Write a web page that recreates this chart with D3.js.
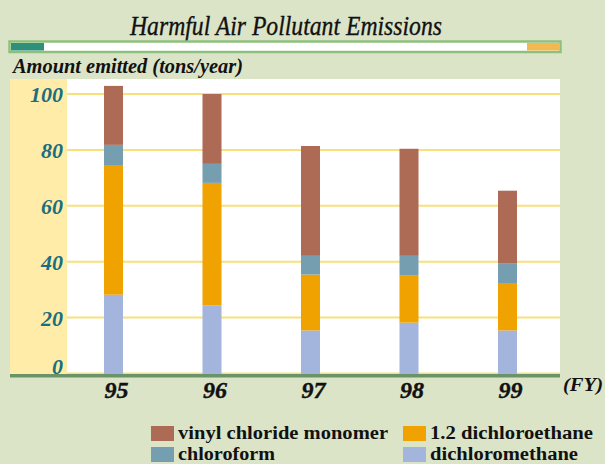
<!DOCTYPE html>
<html><head><meta charset="utf-8"><script src="https://cdn.jsdelivr.net/npm/d3@7"></script></head>
<body style="margin:0;background:#DCE4C8">
<svg id="chart" width="605" height="464" style="display:block"></svg>
<script>
const years = ["95", "96", "97", "98", "99"];
const seriesNames = ["dichloromethane", "1.2 dichloroethane", "chloroform", "vinyl chloride monomer"];
const dichloromethane = [28.2, 24.3, 15.4, 18.2, 15.4];
const dichloroethane = [46.4, 43.9, 20.0, 16.8, 16.7];
const chloroform = [7.2, 6.8, 6.7, 7.1, 7.2];
const vinylChloride = [21.1, 25.0, 39.3, 38.3, 26.1];
const yTicks = [0, 20, 40, 60, 80, 100];
const colors = ["#A3B5DC", "#EFA200", "#759FB0", "#AD6A55"];

const svg = d3.select("#chart");
const W = 605, H = 464;
svg.append("rect").attr("width", W).attr("height", H).attr("fill", "#DCE4C8");

function txt(sel, size, italic, bold) {
  return sel.style("font-family", () => `"Liberation Serif"`)
    .style("font-size", size + "px")
    .style("font-style", italic ? "italic" : "normal")
    .style("font-weight", bold ? "bold" : "normal");
}

// title
txt(svg.append("text"), 27, true, false)
  .attr("x", 130).attr("y", 35)
  .attr("textLength", 312).attr("lengthAdjust", "spacingAndGlyphs")
  .attr("fill", "#111").attr("stroke", "#111").attr("stroke-width", 0.35)
  .text("Harmful Air Pollutant Emissions");

// header bar
svg.append("rect").attr("x", 9.5).attr("y", 41.5).attr("width", 551).attr("height", 10.5)
  .attr("fill", "#fff").attr("stroke", "#8DC07E").attr("stroke-width", 2.5);
svg.append("rect").attr("x", 11).attr("y", 43).attr("width", 33).attr("height", 7.5).attr("fill", "#2E9078");
svg.append("rect").attr("x", 527).attr("y", 43).attr("width", 32).attr("height", 7.5).attr("fill", "#F3B850");

// axis title
txt(svg.append("text"), 20, true, true)
  .attr("x", 13).attr("y", 73)
  .attr("textLength", 230).attr("lengthAdjust", "spacingAndGlyphs")
  .attr("fill", "#111")
  .text("Amount emitted (tons/year)");

// plot area
const plotLeft = 67, plotRight = 560, plotTop = 79, plotBottom = 374;
svg.append("rect").attr("x", 10).attr("y", plotTop).attr("width", plotLeft - 10).attr("height", plotBottom - plotTop).attr("fill", "#FFECA8");
svg.append("rect").attr("x", plotLeft).attr("y", plotTop).attr("width", plotRight - plotLeft).attr("height", plotBottom - plotTop).attr("fill", "#FFFFFF");

const x = d3.scaleBand().domain(years).range([64.25, 556.75]).paddingInner(0.807).paddingOuter(0.4035);
const y = d3.scaleLinear().domain([0, 100]).range([373.5, 94]);

// gridlines
svg.append("g").selectAll("line").data(yTicks).join("line")
  .attr("x1", plotLeft).attr("x2", plotRight)
  .attr("y1", d => y(d)).attr("y2", d => y(d))
  .attr("stroke", "#F8E07A").attr("stroke-width", 2);

// stacked bars
const rows = years.map((yr, i) => ({
  year: yr,
  "dichloromethane": dichloromethane[i],
  "1.2 dichloroethane": dichloroethane[i],
  "chloroform": chloroform[i],
  "vinyl chloride monomer": vinylChloride[i]
}));
const stack = d3.stack().keys(seriesNames)(rows);
svg.append("g").selectAll("g").data(stack).join("g")
  .attr("fill", (d, i) => colors[i])
  .selectAll("rect").data(d => d).join("rect")
  .attr("x", d => x(d.data.year))
  .attr("width", x.bandwidth())
  .attr("y", d => y(d[1]))
  .attr("height", d => y(d[0]) - y(d[1]) + (d[0] === 0 ? 1 : 0));

// bottom green line
svg.append("rect").attr("x", 10).attr("y", 374).attr("width", plotRight - 10).attr("height", 3.5).attr("fill", "#6A9467");

// y axis labels
const gy = svg.append("g").attr("transform", "translate(63,0)")
  .call(d3.axisLeft(y).tickValues(yTicks).tickSize(0).tickPadding(0));
gy.select(".domain").remove();
txt(gy.selectAll("text"), 22, true, true)
  .attr("dy", d => d === 0 ? "-0.02em" : "0.34em")
  .attr("fill", "#1A6E80");

// x axis labels
const gx = svg.append("g").attr("transform", "translate(3,398)")
  .call(d3.axisBottom(x).tickSize(0).tickPadding(0));
gx.select(".domain").remove();
txt(gx.selectAll("text"), 24, true, true)
  .attr("dy", 0)
  .attr("fill", "#111").attr("stroke", "#111").attr("stroke-width", 0.4);

txt(svg.append("text"), 19, true, true)
  .attr("x", 563).attr("y", 391)
  .attr("textLength", 40).attr("lengthAdjust", "spacingAndGlyphs")
  .attr("fill", "#111")
  .text("(FY)");

// legend
const legendItems = [
  { name: "vinyl chloride monomer", color: colors[3], x: 151, y: 426, w: 210 },
  { name: "1.2 dichloroethane", color: colors[1], x: 403, y: 426, w: 163 },
  { name: "chloroform", color: colors[2], x: 151, y: 447, w: 97 },
  { name: "dichloromethane", color: colors[0], x: 403, y: 447, w: 148 }
];
const lg = svg.append("g").selectAll("g").data(legendItems).join("g");
lg.append("rect").attr("x", d => d.x).attr("y", d => d.y).attr("width", 23).attr("height", 15).attr("fill", d => d.color);
txt(lg.append("text"), 18, false, true)
  .attr("x", d => d.x + 27).attr("y", d => d.y + 13)
  .attr("textLength", d => d.w).attr("lengthAdjust", "spacingAndGlyphs")
  .attr("fill", "#111")
  .text(d => d.name);
</script>
</body>
</html>
